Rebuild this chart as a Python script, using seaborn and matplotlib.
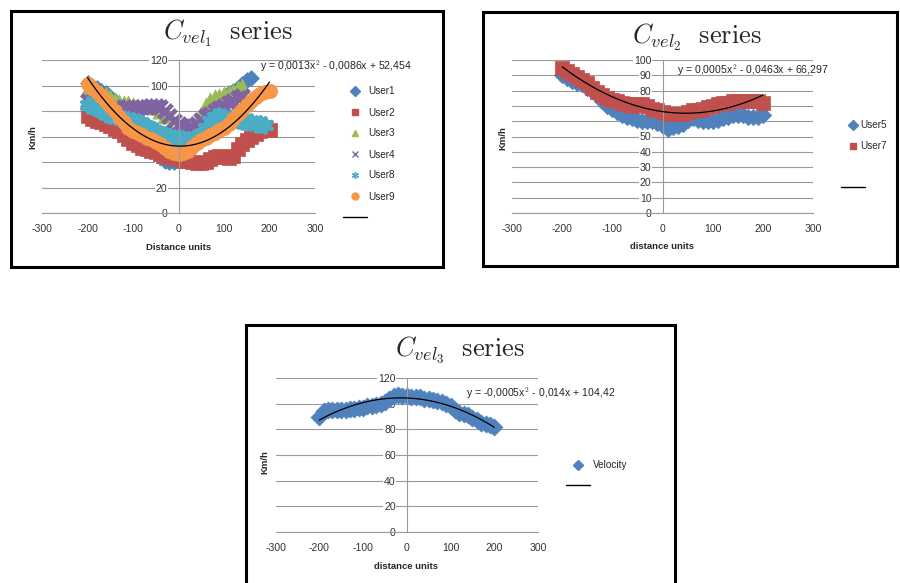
import numpy as np
import matplotlib
matplotlib.use("Agg")
import matplotlib.pyplot as plt
import seaborn as sns
from matplotlib.lines import Line2D
from matplotlib.patches import Rectangle

sns.set_theme(style="white")
plt.rcParams['font.family'] = ['Liberation Sans', 'DejaVu Sans']
plt.rcParams['mathtext.fontset'] = 'cm'
plt.rcParams['axes.unicode_minus'] = False

# ---- data (every 10 distance units from -200) ----
dist = list(range(-200, 210, 10))

# C_vel1 series
user1 = [102, 100, 98, 96, 94, 91, 88, 84, 80, 76, 72, 68, 64, 60, 55, 49, 44, 41, 40, 40,
         41, 44, 50, 57, 63, 70, 76, 81, 85, 88, 91, 94, 96, 98, 101, 104, 106]
user2 = [76, 74, 72, 71, 70, 68, 66, 64, 61, 58, 55, 53, 51, 50, 49, 48, 46, 45, 44, 43,
         42, 41, 41, 40, 39, 39, 40, 42, 44, 45, 44, 43, 45, 50, 54, 57, 60, 62, 64, 65, 65]
user3 = [97, 96, 95, 94, 93, 91, 89, 87, 86, 86, 85, 84, 84, 84, 84, 83, 80, 76, 66, 57,
         52, 54, 57, 62, 70, 78, 85, 89, 91, 92, 93, 94, 96, 98, 100]
user4 = [88, 87, 85, 84, 82, 81, 81, 82, 83, 83, 82, 82, 83, 83, 84, 84, 83, 80, 76, 72,
         70, 68, 67, 67, 70, 73, 76, 78, 80, 82, 84, 86, 88, 90, 92]
user8 = [85, 84, 82, 80, 78, 77, 76, 75, 74, 73, 72, 71, 70, 68, 66, 64, 62, 61, 60, 59,
         59, 58, 57, 57, 58, 62, 67, 72, 75, 76, 75, 74, 73, 73, 72, 71, 71, 70, 70, 69]
user9 = [101, 98, 95, 92, 88, 84, 80, 75, 71, 67, 64, 63, 61, 59, 58, 56, 54, 51, 49, 47,
         46, 47, 49, 52, 55, 57, 59, 61, 63, 65, 67, 70, 74, 78, 81, 85, 88, 91, 93, 95, 96]
trend1 = [0.0013, -0.0086, 52.454]

# C_vel2 series
user5 = [90, 88, 86, 85, 84, 82, 80, 77, 73, 70, 68, 66, 64, 63, 62, 61, 60, 60, 60, 59,
         57, 55, 56, 57, 58, 61, 62, 61, 60, 60, 60, 61, 62, 63, 64, 64, 64, 63, 63, 63, 64]
user7 = [95, 93, 91, 89, 87, 85, 82, 79, 77, 75, 74, 73, 72, 71, 70, 71, 71, 70, 68, 67,
         66, 65, 65, 65, 65, 66, 67, 67, 68, 69, 70, 71, 72, 72, 73, 73, 73, 73, 73, 73, 72]
trend2 = [0.0005, -0.0463, 66.297]

# C_vel3 series
velocity = [90, 94, 95, 95, 95, 95, 95, 96, 96, 97, 97, 98, 98, 99, 100, 101, 104, 106, 107, 106,
            106, 105, 105, 105, 104, 104, 103, 102, 101, 100, 98, 95, 93, 92, 91, 89, 87, 85, 84, 83, 82]
trend3 = [-0.0005, -0.014, 104.42]

W, H = 900, 583
BLUE, RED, GREEN = '#4F81BD', '#C0504D', '#9BBB59'
PURPLE, AQUA, ORANGE = '#8064A2', '#4BACC6', '#F79646'
GRID = '#9a9a9a'
ASTER = (6, 2, 0)

fig = plt.figure(figsize=(W / 100, H / 100), dpi=100)


def px_axes(left, top, right, bottom):
    return fig.add_axes([left / W, 1 - bottom / H, (right - left) / W, (bottom - top) / H])


def fig_text(x, y, s, **kw):
    fig.text(x / W, 1 - y / H, s, ha='center', va='center', **kw)


def excel_axes(ax, ymax, ystep):
    ax.set_xlim(-300, 300)
    ax.set_ylim(0, ymax)
    ax.set_xticks(range(-300, 301, 100))
    ax.set_yticks(range(0, ymax + 1, ystep))
    ax.grid(axis='y', color=GRID, lw=0.8)
    ax.grid(axis='x', visible=False)
    for s in ['top', 'right']:
        ax.spines[s].set_visible(False)
    ax.spines['left'].set_position(('data', 0))
    for s in ['left', 'bottom']:
        ax.spines[s].set_color(GRID)
        ax.spines[s].set_linewidth(0.8)
    ax.tick_params(axis='y', length=0, pad=8, labelsize=7.6, labelcolor='#333333')
    ax.tick_params(axis='x', length=0, pad=8, labelsize=7.6, labelcolor='#333333')
    for lab in ax.get_yticklabels():
        lab.set_bbox(dict(facecolor='white', edgecolor='none', pad=0.6))
    ax.set_xlabel('')
    ax.set_ylabel('')
    ax.set_axisbelow(True)


def draw_series(ax, y, marker, color, size, lw=0):
    xs = dist[:len(y)]
    if lw:
        sns.scatterplot(x=xs, y=y, marker=marker, color=color, s=size, linewidth=lw, ax=ax)
    else:
        sns.scatterplot(x=xs, y=y, marker=marker, color=color, s=size,
                        edgecolor=color, linewidth=0.5, ax=ax)


def draw_trend(ax, coefs):
    xs = np.linspace(-200, 200, 81)
    sns.lineplot(x=xs, y=np.polyval(coefs, xs), color='black', lw=0.9, ax=ax, zorder=5)


def legend(ax, entries, x, y, spacing, pad):
    handles, labels = [], []
    for lab, marker, color in entries:
        if marker == 'line':
            handles.append(Line2D([], [], color='black', lw=1))
        elif marker is None:
            handles.append(Line2D([], [], linestyle='none'))
        else:
            handles.append(Line2D([], [], marker=marker, color=color, linestyle='none',
                                  markersize=5, markeredgewidth=1.0))
        labels.append(lab)
    ax.legend(handles, labels, loc='upper left', bbox_to_anchor=(x / W, 1 - y / H),
              bbox_transform=fig.transFigure, frameon=False, fontsize=7.2,
              borderpad=0, borderaxespad=0, handlelength=2.4, handletextpad=pad,
              labelspacing=spacing)


# ---- panel 1 ----
ax1 = px_axes(42, 60, 315, 213)
draw_series(ax1, user1, 'D', BLUE, 65)
draw_series(ax1, user2, 's', RED, 95)
draw_series(ax1, user3, '^', GREEN, 120)
draw_series(ax1, user4, 'x', PURPLE, 95, lw=3.4)
draw_series(ax1, user8, ASTER, AQUA, 95, lw=3.4)
draw_series(ax1, user9, 'o', ORANGE, 105)
draw_trend(ax1, trend1)
excel_axes(ax1, 120, 20)
ax1.text(0.799, 0.96, 'y = 0,0013x$^2$ - 0,0086x + 52,454', transform=ax1.transAxes,
         fontsize=7.6, va='center', ha='left')
legend(ax1, [('User1', 'D', BLUE), ('User2', 's', RED), ('User3', '^', GREEN),
             ('User4', 'x', PURPLE), ('User8', ASTER, AQUA), ('User9', 'o', ORANGE),
             (' ', 'line', 'black')], 342.7, 86.5, 1.1, 0.2)
fig_text(228, 33, r'$C_{vel_1}\ \ \mathrm{series}$', fontsize=19)
fig_text(33, 137, 'Km/h', rotation=90, fontsize=6.8, fontweight='bold')
fig_text(178.5, 248, 'Distance units', fontsize=6.8, fontweight='bold')

# ---- panel 2 ----
ax2 = px_axes(512, 60, 813, 213)
draw_series(ax2, user5, 'D', BLUE, 70)
draw_series(ax2, user7, 's', RED, 110)
draw_trend(ax2, trend2)
excel_axes(ax2, 100, 10)
ax2.text(0.548, 0.935, 'y = 0,0005x$^2$ - 0,0463x + 66,297', transform=ax2.transAxes,
         fontsize=7.6, va='center', ha='left')
legend(ax2, [('User5', 'D', BLUE), ('User7', 's', RED), (' ', None, None),
             (' ', 'line', 'black')], 840.7, 120.5, 1.05, -0.4)
fig_text(697, 37, r'$C_{vel_2}\ \ \mathrm{series}$', fontsize=19)
fig_text(503, 138, 'Km/h', rotation=90, fontsize=6.8, fontweight='bold')
fig_text(662.5, 247, 'distance units', fontsize=6.8, fontweight='bold')

# ---- panel 3 ----
ax3 = px_axes(275.5, 378, 538, 532)
draw_series(ax3, velocity, 'D', BLUE, 75)
draw_trend(ax3, trend3)
excel_axes(ax3, 120, 20)
ax3.text(0.726, 0.903, 'y = -0,0005x$^2$ - 0,014x + 104,42', transform=ax3.transAxes,
         fontsize=7.6, va='center', ha='left')
legend(ax3, [('Velocity', 'D', BLUE), (' ', 'line', 'black')], 565.7, 460.5, 1.0, 0.34)
fig_text(460, 350, r'$C_{vel_3}\ \ \mathrm{series}$', fontsize=19)
fig_text(264.7, 462, 'Km/h', rotation=90, fontsize=6.8, fontweight='bold')
fig_text(406.5, 566.7, 'distance units', fontsize=6.8, fontweight='bold')

# ---- chart frames ----
for x0, y0, x1, y1 in [(11, 11, 443, 267), (483, 12, 897, 266), (246, 325, 675, 600)]:
    fig.add_artist(Rectangle((x0 / W, 1 - y1 / H), (x1 - x0) / W, (y1 - y0) / H,
                             transform=fig.transFigure, fill=False, ec='black', lw=2.2))

fig.savefig('out.png', dpi=100)
